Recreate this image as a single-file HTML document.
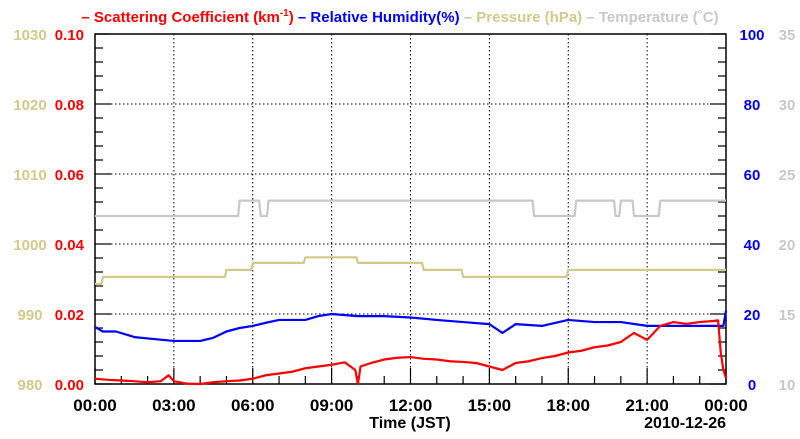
<!DOCTYPE html>
<html><head><meta charset="utf-8"><style>
body{margin:0;background:#fff;width:800px;height:434px;overflow:hidden}
svg text{font-family:"Liberation Sans",Arial,sans-serif;font-weight:bold}
</style></head><body>
<svg id="chart" width="800" height="434" xmlns="http://www.w3.org/2000/svg">
<text x="400" y="22" text-anchor="middle" font-size="15"><tspan fill="#ff0000">– Scattering Coefficient (km<tspan font-size="10" dy="-6">-1</tspan><tspan dy="6">) </tspan></tspan><tspan fill="#0000ff">– Relative Humidity(%) </tspan><tspan fill="#d2c98a">– Pressure (hPa) </tspan><tspan fill="#c8c8c8">– Temperature (˚C)</tspan></text>
<g id="grid"></g><g id="axes"></g><g id="series"></g>
<text x="410" y="428" text-anchor="middle" font-size="16">Time (JST)</text>
<text x="726" y="428" text-anchor="end" font-size="16">2010-12-26</text>
</svg>
<script>
const xTicks=["00:00","03:00","06:00","09:00","12:00","15:00","18:00","21:00","00:00"];
const scatTicks=["0.00","0.02","0.04","0.06","0.08","0.10"];
const presTicks=["980","990","1000","1010","1020","1030"];
const rhTicks=["0","20","40","60","80","100"];
const tempTicks=["10","15","20","25","30","35"];
const scatT=[0,0.5,1,1.5,2,2.5,2.8,3,3.5,4,4.5,5,5.5,6,6.5,7,7.5,8,8.5,9,9.5,9.9,10,10.1,10.5,11,11.5,12,12.5,13,13.5,14,14.5,15,15.5,16,16.5,17,17.5,18,18.5,19,19.5,20,20.5,21,21.5,22,22.5,23,23.5,23.7,23.8,23.9,24];
const scatV=[0.0015,0.0012,0.0010,0.0008,0.0005,0.0008,0.0025,0.0008,0.0001,0.0,0.0005,0.0008,0.0010,0.0015,0.0025,0.0030,0.0035,0.0045,0.0050,0.0055,0.0062,0.0040,0.0,0.0050,0.0060,0.0070,0.0075,0.0077,0.0072,0.0070,0.0065,0.0063,0.0060,0.0050,0.0040,0.0060,0.0065,0.0074,0.0080,0.0090,0.0095,0.0105,0.0110,0.0120,0.0146,0.0126,0.0166,0.0177,0.0172,0.0177,0.0180,0.0182,0.0090,0.0040,0.0017];
const rhT=[0,0.3,0.8,1.5,2.3,3,4,4.5,5,5.5,6,6.5,7,8,8.5,9,10,11,12,13,14,15,15.5,16,17,18,19,20,21,22,23,23.9,24];
const rhV=[16.3,15.0,15.0,13.4,12.8,12.3,12.3,13.2,15.0,16.0,16.6,17.5,18.3,18.3,19.4,20.0,19.4,19.4,19.0,18.3,17.7,17.1,14.6,17.1,16.6,18.3,17.7,17.7,16.6,16.6,16.6,16.6,21.0];
const presT=[0,0.3,2.8,5,6,8,10,12.5,14,18,24];
const presV=[994.3,995.3,995.3,996.3,997.3,998.1,997.3,996.3,995.3,996.3,996.3];
const tempT=[0,5.3,5.5,6.3,6.6,8.3,16.7,18,18.3,19.8,20,20.5,21.5,24];
const tempV=[22.0,22.0,23.1,22.0,23.1,23.1,22.0,22.0,23.1,22.0,23.1,22.0,23.1,23.1];
const L=95,R=726,T=34,B=384;
const X=h=>L+h/24*(R-L);
const yS=v=>B-v/0.1*(B-T), yR=v=>B-v/100*(B-T), yP=v=>B-(v-980)/50*(B-T), yT=v=>B-(v-10)/25*(B-T);
const NS="http://www.w3.org/2000/svg";
function mk(tag,at,parent){const e=document.createElementNS(NS,tag);for(const k in at)e.setAttribute(k,at[k]);document.getElementById(parent).appendChild(e);return e;}
for(let i=1;i<8;i++){const g=mk('line',{x1:X(i*3),x2:X(i*3),y1:T,y2:B,stroke:'#000','stroke-dasharray':'1.5,2.5','stroke-width':1},'grid');

}
for(let i=1;i<5;i++){const g=mk('line',{x1:L,x2:R,y1:yS(i*0.02),y2:yS(i*0.02),stroke:'#000','stroke-dasharray':'1.5,2.5','stroke-width':1},'grid');

}
const fr=mk('rect',{x:L,y:T,width:R-L,height:B-T,fill:'none',stroke:'#000','stroke-width':1.5},'axes');


for(let i=0;i<=25;i++){const y=B-i*(B-T)/25,len=i%5==0?16:8;
mk('line',{x1:L,x2:L+len,y1:y,y2:y,stroke:'#000','stroke-width':1.2},'axes');
mk('line',{x1:R,x2:R-len,y1:y,y2:y,stroke:'#000','stroke-width':1.2},'axes');}
for(let h=0;h<=24;h++){const len=h%3==0?16:8;mk('line',{x1:X(h),x2:X(h),y1:B,y2:B-len,stroke:'#000','stroke-width':1.2},'axes');}
xTicks.forEach((s,i)=>{const t=mk('text',{x:X(i*3),y:411,'text-anchor':'middle','font-size':17,fill:'#000'},'axes');t.textContent=s;

});
function yl(arr,x,anchor,col,name){arr.forEach((s,i)=>{const t=mk('text',{x:x,y:B-i*(B-T)/5+6,'text-anchor':anchor,'font-size':15,fill:col},'axes');t.textContent=s;

});}
yl(scatTicks,84,'end','#ff0000','scattering-tick-label');
yl(presTicks,30,'middle','#d2c98a','pressure-tick-label');
yl(rhTicks,752,'middle','#0000ff','humidity-tick-label');
yl(tempTicks,787,'middle','#c8c8c8','temperature-tick-label');
function line(ts,vs,fy,col,step,name){let d='';ts.forEach((t,i)=>{const x=X(t),y=fy(vs[i]);
if(i==0)d='M'+x+','+y;else if(step){d+=' L'+(x-1.5)+','+fy(vs[i-1])+' L'+x+','+y;}else d+=' L'+x+','+y;});
const p=mk('path',{d:d,fill:'none',stroke:col,'stroke-width':2.2,'stroke-linejoin':'round'},'series');

}
line(tempT,tempV,yT,'#c8c8c8',true,'temperature-line');
line(presT,presV,yP,'#d2c98a',true,'pressure-line');
line(rhT,rhV,yR,'#0000ff',false,'humidity-line');
line(scatT,scatV,yS,'#ff0000',false,'scattering-line');
</script>
</body></html>
